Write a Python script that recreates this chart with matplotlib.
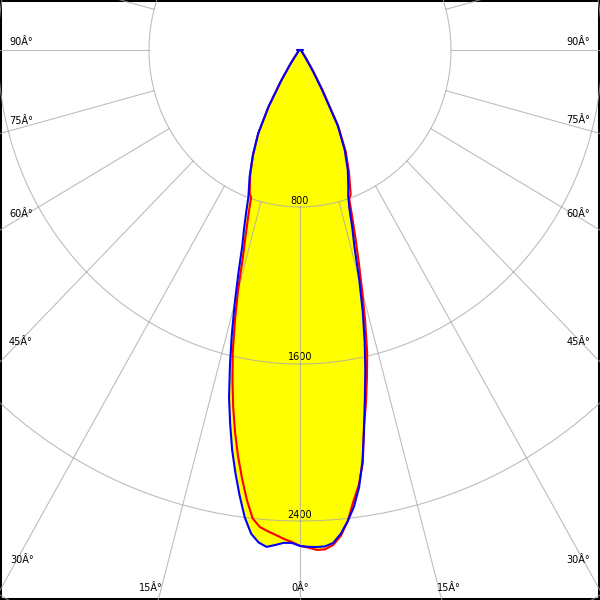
import numpy as np
import matplotlib
matplotlib.use('Agg')
import matplotlib.pyplot as plt

# vertical angle (deg) and luminous intensity (cd) for the two planes
gamma = [0, 1, 2, 3, 4, 5, 6, 7, 8, 9, 10, 11, 12, 13, 14, 15, 16, 17, 18, 19, 20,
         22.5, 25, 27.5, 30, 32.5, 35, 37.5, 40, 45, 50, 55, 60, 65, 70, 75, 80, 85, 90]

# red plane (C0 - C180)
red_c180 = [2527, 2507, 2492, 2474, 2458, 2440, 2400, 2310, 2205, 2097, 1980,
            1855, 1722, 1584, 1428, 1269, 1095, 983, 885, 795, 780,
            690, 588, 478, 330, 185, 95, 52, 30, 18, 12, 10, 10, 10, 11, 12, 13, 14, 15]
red_c0 = [2527, 2536, 2549, 2548, 2528, 2485, 2415, 2318, 2238, 2128, 1950,
          1832, 1706, 1582, 1428, 1275, 1134, 1008, 896, 800, 785,
          680, 575, 440, 250, 135, 70, 45, 28, 18, 12, 10, 10, 10, 11, 12, 13, 14, 15]

# blue plane (C90 - C270)
blue_c270 = [2527, 2512, 2513, 2526, 2538, 2519, 2478, 2400, 2295, 2185, 2070,
             1940, 1808, 1650, 1493, 1336, 1185, 1047, 960, 877, 800,
             697, 591, 481, 334, 190, 100, 55, 32, 18, 12, 10, 10, 10, 11, 12, 13, 14, 15]
blue_c90 = [2527, 2532, 2534, 2533, 2518, 2475, 2415, 2345, 2250, 2118, 1956,
            1802, 1664, 1523, 1375, 1214, 1050, 948, 846, 784, 749,
            662, 560, 431, 230, 130, 70, 45, 28, 18, 12, 10, 10, 10, 11, 12, 13, 14, 15]

rings = [800, 1600, 2400, 3200]
ring_labels = ['800', '1600', '2400']

# edge labels (text, x px, y px, alignment)
edge_labels = [
    ('90Â°', 9, 42, 'left'), ('75Â°', 9, 121, 'left'), ('60Â°', 9, 214, 'left'),
    ('45Â°', 9, 342, 'left'), ('30Â°', 10, 560, 'left'),
    ('90Â°', 590, 42, 'right'), ('75Â°', 590, 120, 'right'), ('60Â°', 590, 214, 'right'),
    ('45Â°', 590, 342, 'right'), ('30Â°', 590, 560, 'right'),
    ('15Â°', 151, 588, 'center'), ('0Â°', 300, 588, 'center'), ('15Â°', 449, 588, 'center'),
]

# pixel scale of the original drawing (slightly stretched vertically)
sx = 151 / 800
sy = 157 / 800
cx_px, cy_px = 300, 50
W = H = 600


def outline(left, right):
    g = np.radians(gamma)
    left = np.asarray(left, float)
    right = np.asarray(right, float)
    xl, yl = -left * np.sin(g), -left * np.cos(g)
    xr, yr = right * np.sin(g), -right * np.cos(g)
    x = np.concatenate([xl[::-1], xr[1:]])
    y = np.concatenate([yl[::-1], yr[1:]])
    return x, y


fig = plt.figure(figsize=(6, 6), dpi=100)
ax = fig.add_axes([0, 0, 1, 1])
ax.set_xlim(-cx_px / sx, (W - cx_px) / sx)
ax.set_ylim(-(H - cy_px) / sy, cy_px / sy)
ax.set_xticks([])
ax.set_yticks([])
for sp in ax.spines.values():
    sp.set_linewidth(2.9)
    sp.set_color('black')

grid_kw = dict(color='#a8a8a8', lw=0.8, alpha=0.75, zorder=3)
t = np.linspace(0, 2 * np.pi, 721)
for r in rings:
    ax.plot(r * np.sin(t), -r * np.cos(t), **grid_kw)
for a in np.radians(np.arange(0, 360, 15)):
    ax.plot([rings[0] * np.sin(a), 6000 * np.sin(a)],
            [-rings[0] * np.cos(a), -6000 * np.cos(a)], **grid_kw)

for r, lab in zip(rings, ring_labels):
    ax.text(0, -r + 6.5 / sy, lab, ha='center', va='center', fontsize=7, zorder=2)

xr_, yr_ = outline(red_c180, red_c0)
xb_, yb_ = outline(blue_c270, blue_c90)
ax.fill(xr_, yr_, color='#ffff00', lw=0, zorder=1)
ax.fill(xb_, yb_, color='#ffff00', lw=0, zorder=1)
ax.fill(xr_, yr_, fc='none', ec='#ff0000', lw=1.5, zorder=4, joinstyle='round')
ax.fill(xb_, yb_, fc='none', ec='#0000ff', lw=1.5, zorder=5, joinstyle='round')

for s, x, y, ha in edge_labels:
    fig.text(x / W, 1 - y / H, s, ha=ha, va='center', fontsize=7)

fig.savefig('out.png', dpi=100)
